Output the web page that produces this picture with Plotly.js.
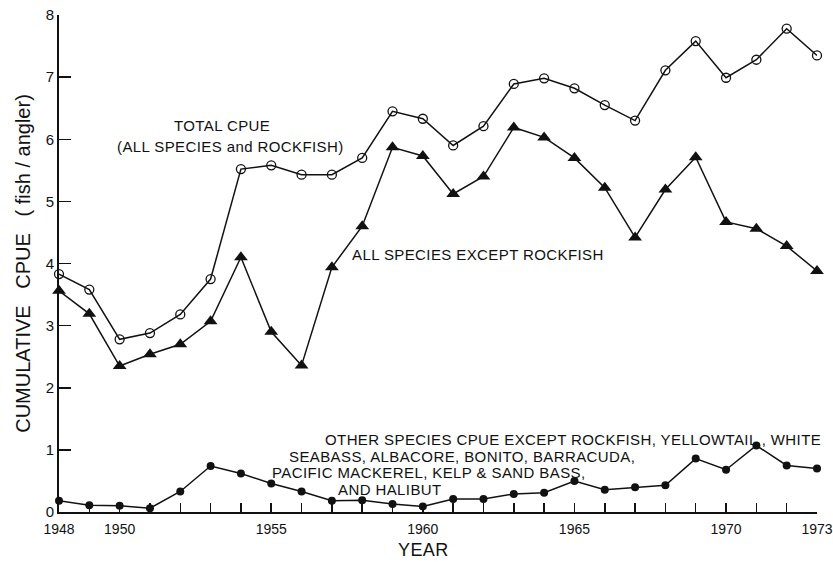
<!DOCTYPE html>
<html>
<head>
<meta charset="utf-8">
<script src="https://cdn.plot.ly/plotly-3.0.1.min.js"></script>
<style>
html,body{margin:0;padding:0;background:#fff;}
#chart{width:833px;height:562px;}
.annotation-text{letter-spacing:0.4px;}
</style>
</head>
<body>
<div id="chart"></div>
<script>
const years = [1948,1949,1950,1951,1952,1953,1954,1955,1956,1957,1958,1959,1960,1961,1962,1963,1964,1965,1966,1967,1968,1969,1970,1971,1972,1973];
const totalCpue = [3.83,3.58,2.78,2.88,3.18,3.75,5.52,5.58,5.43,5.43,5.70,6.45,6.33,5.90,6.21,6.89,6.98,6.82,6.55,6.30,7.11,7.58,6.99,7.28,7.78,7.35];
const exceptRockfish = [3.56,3.19,2.35,2.54,2.70,3.07,4.10,2.90,2.36,3.94,4.60,5.87,5.73,5.12,5.40,6.19,6.03,5.70,5.22,4.42,5.19,5.71,4.67,4.56,4.28,3.88];
const otherSpecies = [0.18,0.11,0.10,0.06,0.33,0.74,0.62,0.46,0.33,0.18,0.19,0.13,0.09,0.21,0.21,0.29,0.31,0.50,0.36,0.40,0.43,0.86,0.68,1.07,0.75,0.70];
const xTickLabels = ["1948","","1950","","","","","1955","","","","","1960","","","","","1965","","","","","1970","","","1973"];
const yTicks = [0,1,2,3,4,5,6,7,8];

const font = "Liberation Sans, Arial, sans-serif";
const lineStyle = {color:'#111', width:1.5};

const traces = [
  {x:years, y:totalCpue, mode:'lines+markers', cliponaxis:false, line:lineStyle,
   marker:{symbol:'circle-open', size:9, color:'#111', line:{width:1.3, color:'#111'}}},
  {x:years, y:exceptRockfish, mode:'lines+markers', cliponaxis:false, line:lineStyle,
   marker:{symbol:'triangle-up', size:12, color:'#111'}},
  {x:years, y:otherSpecies, mode:'lines+markers', cliponaxis:false, line:lineStyle,
   marker:{symbol:'circle', size:8, color:'#111'}}
];

// paper coords: plot spans x 59..817, y 15..512
const px = v => (v-59)/(817-59);
const py = v => (512-v)/(512-15);
const ann = (text, x, y, anchor, size) => ({text, x:px(x), y:py(y), xref:'paper', yref:'paper', xanchor:anchor, yanchor:'middle', showarrow:false, font:{family:font, size:size||15, color:'#111'}});

const layout = {
  width:833, height:562,
  margin:{l:59, r:16, t:15, b:50},
  paper_bgcolor:'#fff', plot_bgcolor:'#fff',
  showlegend:false,
  font:{family:font, color:'#111', size:14},
  xaxis:{range:[1948,1973], tickmode:'array', tickvals:years, ticktext:xTickLabels,
    ticks:'inside', ticklen:9, tickwidth:1.5, tickcolor:'#111', ticklabelstandoff:3,
    showline:true, linewidth:2, linecolor:'#111', showgrid:false, zeroline:false,
    tickfont:{family:font, size:14, color:'#111'}},
  yaxis:{range:[0,8], tickmode:'array', tickvals:yTicks,
    ticks:'inside', ticklen:12, tickwidth:1.5, tickcolor:'#111',
    showline:true, linewidth:2, linecolor:'#111', showgrid:false, zeroline:false,
    tickfont:{family:font, size:15, color:'#111'},
    title:{text:'CUMULATIVE   CPUE   ( fish / angler)', font:{family:font, size:20, color:'#111'}, standoff:10}},
  annotations:[
    ann('TOTAL CPUE', 222, 125, 'center'),
    ann('(ALL SPECIES and ROCKFISH)', 230, 147, 'center'),
    ann('ALL SPECIES EXCEPT ROCKFISH', 350, 254, 'left'),
    ann('OTHER SPECIES CPUE EXCEPT ROCKFISH, YELLOWTAIL , WHITE', 323, 439, 'left'),
    ann('SEABASS, ALBACORE, BONITO, BARRACUDA,', 287, 456, 'left'),
    ann('PACIFIC MACKEREL, KELP & SAND BASS,', 270, 472, 'left'),
    ann('AND HALIBUT', 336, 489, 'left'),
    ann('YEAR', 423, 550, 'center', 18)
  ]
};

Plotly.newPlot('chart', traces, layout, {displayModeBar:false, staticPlot:true});
</script>
</body>
</html>
